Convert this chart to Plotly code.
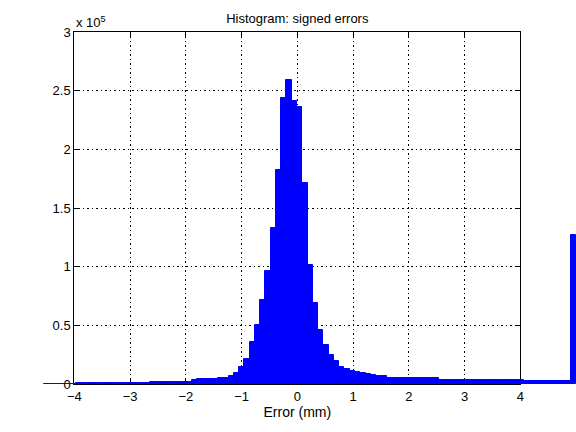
import plotly.graph_objects as go

# Histogram bins (MATLAB-style hist), 101 bins of equal width
bin_start = -4.541   # left edge of first bin
bin_width = 0.0945

counts = (
    [300] * 6 +            # -4.54 .. -4.0 (near zero)
    [700] * 14 +           # -4.0 .. -2.7
    [1300] * 6 +
    [2100] * 2 +
    [3600] +
    [4400] * 4 +
    [5300] * 2 +
    [7000, 9800, 14700, 21700, 36200, 50700, 72000, 96700, 133300, 182700,
     244000, 259400, 241500, 236400, 171600, 101800, 69400, 46400, 33600,
     24300, 19200, 14900, 13200, 11500, 10600, 9800, 8900, 8100] +
    [6400] * 2 +
    [5500] * 2 +
    [4700] * 8 +
    [3800] * 14 +
    [3000] * 2 +
    [2700] * 9 +
    [126700]               # overflow bin
)

centers = [bin_start + (i + 0.5) * bin_width for i in range(len(counts))]

x_ticks = [-4, -3, -2, -1, 0, 1, 2, 3, 4]
y_ticks = [0, 50000, 100000, 150000, 200000, 250000, 300000]
y_ticktext = ["0", "0.5", "1", "1.5", "2", "2.5", "3"]

FONT = "Liberation Sans"
W, H = 576, 432
AX_L, AX_R = 74.3, 520.3          # pixel edges of the visible axes box
X_MIN, X_MAX = -4, 4
px_per_unit = (AX_R - AX_L) / (X_MAX - X_MIN)
# full-width data range so bars outside [-4, 4] (MATLAB draws them) stay visible
full_range = [X_MIN - AX_L / px_per_unit, X_MIN + (W - AX_L) / px_per_unit]

fig = go.Figure()

# axes frame / grid / ticks subplot (drawn first, underneath)
fig.add_trace(go.Scatter(x=[], y=[], xaxis="x", yaxis="y", showlegend=False))

# histogram bars on a full-width overlay subplot
fig.add_trace(
    go.Bar(
        x=centers,
        y=counts,
        width=bin_width,
        marker=dict(color="#0000ff", line=dict(color="#0000ff", width=1)),
        xaxis="x2",
        yaxis="y2",
        hoverinfo="skip",
        showlegend=False,
    )
)

fig.update_layout(
    width=W,
    height=H,
    margin=dict(l=0, r=0, t=32, b=48, pad=0, autoexpand=False),
    paper_bgcolor="white",
    plot_bgcolor="rgba(0,0,0,0)",
    showlegend=False,
    bargap=0,
    font=dict(family=FONT, size=13, color="black"),
    title=dict(
        text="Histogram: signed errors",
        x=(AX_L + AX_R) / 2 / W,
        xref="paper",
        xanchor="center",
        y=1 - 18 / H,
        yref="container",
        yanchor="middle",
        font=dict(family=FONT, size=13, color="black"),
    ),
    annotations=[
        dict(
            text="x 10<sup>5</sup>",
            xref="paper",
            yref="paper",
            x=AX_L / W,
            y=1,
            xanchor="left",
            yanchor="bottom",
            showarrow=False,
            font=dict(family=FONT, size=13, color="black"),
        )
    ],
    xaxis=dict(
        domain=[AX_L / W, AX_R / W],
        anchor="y",
        automargin=False,
        range=[X_MIN, X_MAX],
        tickvals=x_ticks,
        ticks="inside",
        ticklen=5,
        tickcolor="black",
        showline=True,
        linecolor="black",
        linewidth=1,
        mirror="ticks",
        showgrid=True,
        gridcolor="black",
        gridwidth=1,
        griddash="1px,3px,2px,3px",
        zeroline=False,
        title=dict(text="Error (mm)", standoff=4, font=dict(family=FONT, size=14)),
        tickfont=dict(family=FONT, size=13),
    ),
    yaxis=dict(
        anchor="x",
        automargin=False,
        range=[0, 300000],
        tickvals=y_ticks,
        ticktext=y_ticktext,
        ticks="inside",
        ticklen=5,
        tickcolor="black",
        showline=True,
        linecolor="black",
        linewidth=1,
        mirror="ticks",
        showgrid=True,
        gridcolor="black",
        gridwidth=1,
        griddash="1px,3px,2px,3px",
        zeroline=False,
        tickfont=dict(family=FONT, size=13),
    ),
    xaxis2=dict(
        domain=[0, 1],
        anchor="y2",
        automargin=False,
        range=full_range,
        visible=False,
        showgrid=False,
        zeroline=False,
    ),
    yaxis2=dict(
        anchor="x2",
        automargin=False,
        range=[0, 300000],
        visible=False,
        showgrid=False,
        zeroline=False,
    ),
)

fig.write_html(
    "out.html",
    config={"displayModeBar": False},
    post_script="document.body.style.margin='0px';document.body.style.overflow='hidden';",
)
